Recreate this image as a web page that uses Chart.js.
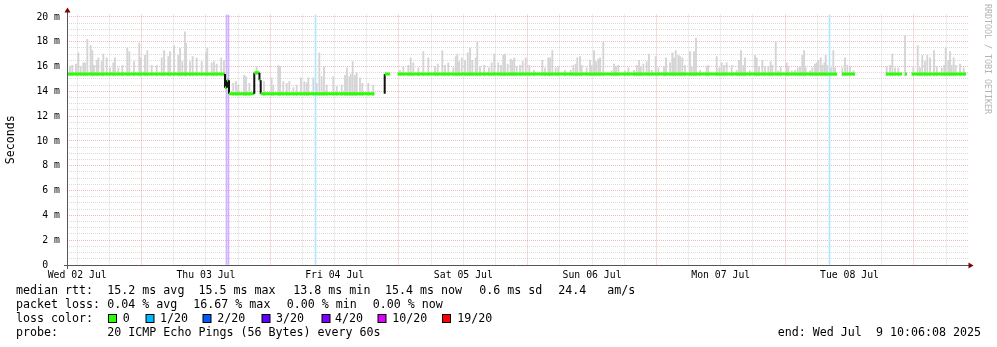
<!DOCTYPE html>
<html>
<head>
<meta charset="utf-8">
<script src="https://cdn.jsdelivr.net/npm/chart.js@4.4.1/dist/chart.umd.min.js"></script>
<style>
  html, body { margin: 0; background: #fff; }
  canvas { display: block; }
</style>
</head>
<body>
<canvas id="chart-rtt" width="997" height="347"></canvas>
<script>
// x values are hours since the graph start (Wed Jul 2 10:06:08 2025)
const xLabelHours = [1.9, 25.9, 49.9, 73.9, 97.9, 121.9, 145.9];
const xLabels = ["Wed 02 Jul", "Thu 03 Jul", "Fri 04 Jul", "Sat 05 Jul", "Sun 06 Jul", "Mon 07 Jul", "Tue 08 Jul"];
const midnightHours = [13.9, 37.9, 61.9, 85.9, 109.9, 133.9, 157.9];

// median rtt (ms), null = no data
const medianHours = [0, 29.46, 29.46, 29.83, 29.83, 30.21, 30.21, 34.92, 34.92, 35.89, 35.89, 36.12, 36.12, 57.34, 58.2,
  59.11, 59.24, 59.24, 60.23, 60.9, 61.63, 143.58, 144.0, 144.51, 146.93, 149.8, 152.71, 155.69, 155.95, 156.25, 156.63,
  157.0, 157.47, 167.63];
const medianValues = [15.4, 15.4, 14.3, 14.3, 14.9, 14.9, 13.8, 13.8, 15.5, 15.5, 14.9, 14.9, 13.8, 13.8, null,
  13.8, 13.8, 15.4, 15.4, null, 15.4, 15.4, null, 15.4, 15.4, null, 15.4, 15.4, null, 15.4, 15.4,
  null, 15.4, 15.4];

// smoke: top of the ping spread per spike (ms)
const smokeHours = [0.06, 0.56, 0.99, 1.68, 2.11, 2.55, 3.04, 3.36, 3.79, 4.42, 4.72, 5.03, 5.54, 5.84, 6.47, 6.77, 7.4,
  8.02, 8.63, 8.95, 9.57, 10.31, 11.24, 11.62, 12.49, 13.48, 13.74, 14.54, 14.98, 15.79, 16.72, 17.66, 18.09, 18.89,
  19.21, 19.95, 20.75, 21.07, 21.5, 22.0, 22.19, 22.93, 23.43, 24.18, 25.11, 25.92, 26.16, 26.98, 27.41, 27.91, 28.77,
  29.27,
  31.0, 31.5, 31.94, 33.0, 33.38, 34.0, 35.37, 36.73, 38.16, 38.47, 39.4, 39.72, 40.33, 40.96, 41.45, 42.2, 42.83, 43.63,
  44.25, 44.69, 45.0, 45.93, 46.56, 47.05, 47.48, 47.92, 48.42, 49.66, 50.29, 51.22, 51.84, 52.21, 52.64, 52.9, 53.27,
  53.7, 54.02, 54.63, 55.07, 56.18, 57.1,
  62.09, 62.71, 63.64, 64.09, 64.57, 65.51, 66.44, 67.37, 68.62, 69.12, 69.98, 70.48, 71.1, 72.03, 72.48, 72.78, 73.1,
  73.6, 74.21, 74.72, 75.14, 75.57, 76.2, 76.5, 77.0, 77.8, 78.68, 79.18, 79.67, 80.41, 80.93, 81.35, 81.67, 82.17,
  82.73, 83.03, 83.4, 83.85, 84.47, 84.97, 85.53, 86.2, 87.08, 88.63, 89.13, 89.75, 90.06, 90.49, 91.12, 91.61, 92.86,
  93.92, 94.41, 94.85, 95.15, 95.66, 95.97, 96.9, 97.52, 97.84, 98.27, 98.64, 99.07, 99.39, 100.0, 101.57, 102.0,
  102.37, 102.8, 104.05, 104.67, 105.73, 106.23, 106.66, 106.98, 107.47, 108.09, 108.52, 109.03, 109.77, 110.26,
  111.32, 111.69, 112.44, 112.87, 113.18, 113.5, 113.98, 114.3, 114.73, 115.23, 116.16, 116.48, 116.91, 117.28, 118.03,
  119.27, 119.57, 121.14, 121.63, 122.07, 122.5, 123.0, 123.94, 124.87, 125.3, 125.68, 126.1, 126.42, 127.35, 128.29,
  128.6, 129.03, 129.65, 130.15, 130.77, 131.21, 131.51, 132.15, 132.63, 133.08, 134.2, 134.5, 135.13, 135.74, 136.25,
  136.68, 137.11, 137.43, 137.74, 138.55, 138.98, 139.48, 139.8, 140.09, 140.54, 140.84, 141.21, 141.47, 141.77,
  142.46, 142.89, 143.21,
  144.57, 145.07, 145.5, 146.0, 146.62, 152.84, 153.46, 153.89, 154.39, 155.01, 156.26,
  157.81, 158.62, 159.05, 159.48, 159.98, 160.41, 160.92, 161.66, 162.17, 163.1, 163.58, 163.84, 164.33, 164.64,
  164.96, 165.33, 165.71, 166.51, 167.2];
const smokeTops = [15.7, 16.0, 16.1, 16.2, 17.1, 16.0, 16.3, 16.3, 18.2, 17.7, 17.3, 16.1, 16.5, 16.7, 16.4, 17.0, 16.7,
  15.9, 16.3, 16.7, 15.9, 16.1, 17.5, 17.2, 16.4, 17.9, 16.7, 16.9, 17.3, 16.1, 16.1, 16.7, 17.3, 16.8,
  17.2, 17.7, 16.9, 17.5, 16.4, 18.8, 17.9, 16.4, 16.8, 16.7, 16.4, 17.1, 17.5, 16.3, 16.4, 16.2, 16.7,
  16.5,
  14.65, 14.8, 14.5, 15.3, 15.2, 14.65, 16.0, 14.8, 15.1, 14.5, 16.1, 16.0, 14.8, 14.65, 14.8, 14.3, 14.5, 15.1,
  14.8, 14.7, 15.1, 15.1, 14.65, 17.1, 15.2, 16.0, 14.5, 15.2, 14.4, 14.5, 15.3, 15.9, 15.2, 15.4, 16.4,
  15.3, 15.5, 15.1, 14.65, 14.65, 14.5,
  15.7, 16.0, 16.1, 16.7, 16.3, 15.9, 17.2, 16.7, 16.0, 16.2, 17.3, 16.1, 16.3, 15.9, 16.8, 17.0, 16.4,
  16.7, 16.5, 17.1, 17.5, 16.5, 16.7, 18.0, 16.0, 16.1, 15.9, 16.3, 17.0, 16.3, 16.1, 16.9, 17.0, 16.2,
  16.6, 16.5, 16.7, 16.0, 16.1, 16.4, 16.7, 16.1, 15.7, 16.5, 15.9, 16.7, 16.7, 17.3, 15.9, 16.0, 15.7,
  15.7, 16.1, 16.2, 16.7, 16.8, 16.1, 15.9, 16.5, 16.1, 17.3, 16.4, 16.6, 16.7, 18.0, 15.65, 16.2,
  16.0, 16.1, 15.65, 15.9, 15.7, 16.1, 16.5, 16.0, 16.2, 16.4, 17.0, 15.7, 16.8, 15.9,
  16.0, 16.7, 16.3, 17.1, 16.7, 17.3, 16.9, 16.8, 16.7, 16.1, 17.2, 16.0, 17.2, 18.3, 15.7,
  16.0, 16.1, 16.8, 15.9, 16.3, 16.1, 16.3, 16.1, 15.7, 16.5, 17.3, 16.1, 16.7, 15.65, 16.9,
  16.7, 16.0, 16.5, 16.0, 16.0, 16.4, 16.1, 18.0, 15.65, 16.0, 16.3, 16.0, 15.65, 15.7, 15.9,
  16.0, 16.9, 17.3, 15.9, 15.65, 15.9, 16.2, 16.3, 16.5, 16.7, 16.1, 16.3, 16.9, 16.1,
  15.9, 17.3, 15.9,
  15.9, 16.7, 16.1, 16.0, 15.65, 16.0, 16.1, 17.0, 15.9, 15.9, 18.5,
  16.0, 17.7, 15.9, 16.9, 16.4, 16.9, 16.7, 17.3, 16.0, 15.9, 16.1, 17.5, 16.5, 17.2,
  16.1, 16.7, 16.1, 16.2, 15.9];

// columns with packet loss, shown full height
const lossMarkHours = [29.74, 30.11, 46.34, 142.18];
const lossMarkColors = ["#d2b0ff", "#d2b0ff", "#b0e6ff", "#b0e6ff"];

// legend
const lossLabels = ["0", "1/20", "2/20", "3/20", "4/20", "10/20", "19/20"];
const lossColors = ["#26ff00", "#00b8ff", "#0059ff", "#5e00ff", "#7e00ff", "#dd00ff", "#ff0000"];
const statsRtt = ["median rtt:", "15.2 ms avg", "15.5 ms max", "13.8 ms min", "15.4 ms now", "0.6 ms sd", "24.4", "am/s"];
const statsLoss = ["packet loss:", "0.04 % avg", "16.67 % max", "0.00 % min", "0.00 % now"];
const probeText = ["probe:", "20 ICMP Echo Pings (56 Bytes) every 60s"];
const endText = "end: Wed Jul  9 10:06:08 2025";

const MONO = "'DejaVu Sans Mono', monospace";
const GREEN = "#26ff00";
const MGRID = "rgba(222,81,81,0.4)";
const GRID = "rgba(143,143,143,0.32)";

function medianAt(h) {
  for (let i = 0; i < medianHours.length - 1; i++) {
    const a = medianValues[i], b = medianValues[i + 1];
    if (a === null || b === null) continue;
    if (h >= medianHours[i] && h <= medianHours[i + 1]) return Math.min(a, b);
  }
  return 15.4;
}

const near = (list, v) => list.findIndex((h) => Math.abs(h - v) < 0.01);

// ── Text, axes and legend drawn around the plot ─────────────────────────────
const decorations = {
  id: "decorations",
  afterDraw(chart) {
    const ctx = chart.ctx;
    ctx.save();
    // axes + arrows
    ctx.strokeStyle = "#555";
    ctx.lineWidth = 1;
    ctx.beginPath();
    ctx.moveTo(67.5, 269);
    ctx.lineTo(67.5, 12);
    ctx.moveTo(64, 265.5);
    ctx.lineTo(969, 265.5);
    ctx.stroke();
    ctx.fillStyle = "#7f0000";
    ctx.beginPath();
    ctx.moveTo(64.5, 12.5);
    ctx.lineTo(70.5, 12.5);
    ctx.lineTo(67.5, 7.5);
    ctx.fill();
    ctx.beginPath();
    ctx.moveTo(968.5, 262.5);
    ctx.lineTo(968.5, 268.5);
    ctx.lineTo(973.5, 265.5);
    ctx.fill();

    // legend text
    ctx.fillStyle = "#000";
    ctx.font = "11.65px " + MONO;
    ctx.textBaseline = "middle";
    ctx.textAlign = "left";
    const rttX = [16, 107.3, 198.5, 293.3, 385, 479.3, 558.3, 607.3];
    statsRtt.forEach((t, i) => ctx.fillText(t, rttX[i], 291));
    const lossX = [16, 107.3, 193.3, 286.7, 372.7];
    statsLoss.forEach((t, i) => ctx.fillText(t, lossX[i], 305));
    ctx.fillText("loss color:", 16, 319);
    const boxX = [108.5, 146, 203, 262, 322, 378, 442.5];
    const labX = [122.7, 160, 217.3, 276, 335, 392.3, 457.3];
    lossLabels.forEach((t, i) => {
      ctx.fillStyle = lossColors[i];
      ctx.fillRect(boxX[i], 314.5, 8, 8);
      ctx.strokeStyle = "#000";
      ctx.strokeRect(boxX[i], 314.5, 8, 8);
      ctx.fillStyle = "#000";
      ctx.fillText(t, labX[i], 319);
    });
    ctx.fillText(probeText[0], 16, 333);
    ctx.fillText(probeText[1], 107.3, 333);
    ctx.textAlign = "right";
    ctx.fillText(endText, 981, 333);

    // watermark
    ctx.translate(984, 4);
    ctx.rotate(Math.PI / 2);
    ctx.textAlign = "left";
    ctx.textBaseline = "middle";
    ctx.font = "8.3px " + MONO;
    ctx.fillStyle = "#b4b4b4";
    ctx.fillText("RRDTOOL / TOBI OETIKER", 0, -3);
    ctx.restore();
  },
};

// ── Build datasets ──────────────────────────────────────────────────────────
const medianPoints = medianHours.map((h, i) => ({ x: h, y: medianValues[i] }));
const smokeBars = smokeHours.map((h, i) => ({ x: h, y: [medianAt(h) - 0.15, smokeTops[i]] }));
const lossBars = lossMarkHours.map((h) => ({ x: h, y: [0, 20.2] }));

const yTicks = [];
for (let v = 0; v <= 20; v += 0.5) yTicks.push(v);
const xTicks = [];
for (let h = 1.9; h < 168; h += 6) xTicks.push(Math.round(h * 10) / 10);

const isVertical = (c) => c.p0.parsed.x === c.p1.parsed.x;

new Chart(document.getElementById("chart-rtt"), {
  type: "line",
  data: {
    datasets: [
      {
        label: "median",
        data: medianPoints,
        borderColor: GREEN,
        borderWidth: 3,
        pointRadius: 0,
        spanGaps: false,
        order: 0,
        segment: {
          borderColor: (c) => (isVertical(c) ? "#111" : undefined),
          borderWidth: (c) => (isVertical(c) ? 2 : undefined),
        },
      },
      {
        type: "bar",
        label: "loss",
        data: lossBars,
        backgroundColor: lossMarkColors,
        barThickness: 1,
        grouped: false,
        order: 1,
      },
      {
        type: "bar",
        label: "smoke",
        data: smokeBars,
        backgroundColor: "#d4d4d4",
        barThickness: 1.2,
        grouped: false,
        order: 2,
      },
    ],
  },
  options: {
    responsive: false,
    animation: false,
    devicePixelRatio: 1,
    layout: { padding: { top: 14.5, right: 29, left: 0, bottom: 0 } },
    plugins: { legend: { display: false }, tooltip: { enabled: false } },
    scales: {
      x: {
        type: "linear",
        min: 0,
        max: 168,
        offset: false,
        afterFit: (s) => { s.height = 82; },
        afterBuildTicks: (s) => { s.ticks = xTicks.map((v) => ({ value: v })); },
        ticks: {
          autoSkip: false,
          maxRotation: 0,
          minRotation: 0,
          padding: 5,
          color: "#000",
          font: { family: MONO, size: 9.8 },
          callback: (v) => {
            const i = near(xLabelHours, v);
            return i >= 0 ? xLabels[i] : "";
          },
        },
        grid: {
          offset: false,
          drawTicks: false,
          color: (c) => (near(midnightHours, c.tick.value) >= 0 ? MGRID : GRID),
        },
        border: { display: false, dash: [1, 1] },
      },
      y: {
        min: 0,
        max: 20.2,
        afterFit: (s) => { s.width = 67; },
        afterBuildTicks: (s) => { s.ticks = yTicks.map((v) => ({ value: v })); },
        ticks: {
          autoSkip: false,
          padding: 7,
          color: "#000",
          font: { family: MONO, size: 9.8 },
          callback: (v) => (v % 2 !== 0 ? "" : v === 0 ? "0  " : v + " m"),
        },
        grid: {
          drawTicks: false,
          color: (c) => (c.tick.value % 2 === 0 ? MGRID : GRID),
        },
        border: { display: false, dash: [1, 1] },
        title: {
          display: true,
          text: "Seconds",
          color: "#000",
          font: { family: MONO, size: 11.6 },
          padding: { top: 4, bottom: 0 },
        },
      },
    },
  },
  plugins: [decorations],
});
</script>
</body>
</html>
